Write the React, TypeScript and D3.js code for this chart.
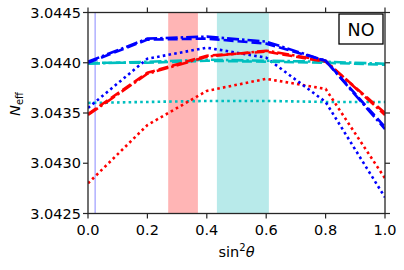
import * as d3 from 'd3';

// sin^2(theta) grid
const xs = [0, 0.2, 0.4, 0.6, 0.8, 1.0];

const blueDashed = [3.04400, 3.04423, 3.04424, 3.04419, 3.04402, 3.04336];
const blueDashDot = [3.04401, 3.04424, 3.04426, 3.04421, 3.04402, 3.04334];
const blueDotted = [3.04355, 3.04404, 3.04415, 3.04405, 3.04361, 3.04266];

const redDashed = [3.04349, 3.04390, 3.04407, 3.04411, 3.04401, 3.04350];
const redDashDot = [3.04348, 3.04389, 3.04406, 3.04412, 3.04402, 3.04348];
const redDotted = [3.04280, 3.04338, 3.04372, 3.04384, 3.04374, 3.04285];

const cyanDashed = [3.04400, 3.04400, 3.04402, 3.04401, 3.04400, 3.04398];
const cyanDashDot = [3.04399, 3.04401, 3.04403, 3.04402, 3.04401, 3.04399];
const cyanDotted = [3.04360, 3.04361, 3.04362, 3.04362, 3.04361, 3.04361];

const xTicks = [0, 0.2, 0.4, 0.6, 0.8, 1.0];
const yTicks = [3.0425, 3.043, 3.0435, 3.044, 3.0445];

const redBand = [0.27, 0.37];
const cyanBand = [0.434, 0.609];
const vline = 0.024;

const WIDTH = 404;
const HEIGHT = 270;
const PLOT = { left: 88, right: 385, top: 12.5, bottom: 213.5 };
const FONT = 'DejaVu Sans, sans-serif';

const DASH = '10 4';
const DASHDOT = '12 3 2.5 3';
const DOT = '2.6 3.2';

export default function App() {
  const x = d3.scaleLinear().domain([0, 1]).range([PLOT.left, PLOT.right]);
  const y = d3.scaleLinear().domain([3.0425, 3.0445]).range([PLOT.bottom, PLOT.top]);

  const line = d3
    .line<number>()
    .x((_, i) => x(xs[i]))
    .y((d) => y(d));

  const series = [
    { vals: cyanDotted, color: '#00bfbf', dash: DOT },
    { vals: redDotted, color: '#ff0000', dash: DOT },
    { vals: blueDotted, color: '#0000ff', dash: DOT },
    { vals: cyanDashed, color: '#00bfbf', dash: DASH },
    { vals: cyanDashDot, color: '#00bfbf', dash: DASHDOT },
    { vals: redDashed, color: '#ff0000', dash: DASH },
    { vals: redDashDot, color: '#ff0000', dash: DASHDOT },
    { vals: blueDashed, color: '#0000ff', dash: DASH },
    { vals: blueDashDot, color: '#0000ff', dash: DASHDOT },
  ];

  const axisColor = '#262626';

  return (
    <svg
      width={WIDTH}
      height={HEIGHT}
      style={{ position: 'fixed', left: 0, top: 0, background: '#fff' }}
      fontFamily={FONT}
    >
      <defs>
        <clipPath id="plot">
          <rect x={PLOT.left} y={PLOT.top} width={PLOT.right - PLOT.left} height={PLOT.bottom - PLOT.top} />
        </clipPath>
      </defs>

      {/* shaded bands */}
      <rect
        x={x(redBand[0])}
        y={PLOT.top}
        width={x(redBand[1]) - x(redBand[0])}
        height={PLOT.bottom - PLOT.top}
        fill="#ffb5b5"
      />
      <rect
        x={x(cyanBand[0])}
        y={PLOT.top}
        width={x(cyanBand[1]) - x(cyanBand[0])}
        height={PLOT.bottom - PLOT.top}
        fill="#b8eaea"
      />
      <line x1={x(vline)} x2={x(vline)} y1={PLOT.top} y2={PLOT.bottom} stroke="#9c9cff" strokeWidth={1.2} />

      <g clipPath="url(#plot)">
        {series.map((s, i) => (
          <path
            key={i}
            d={line(s.vals) ?? ''}
            fill="none"
            stroke={s.color}
            strokeWidth={2.6}
            strokeDasharray={s.dash}
          />
        ))}
      </g>

      {/* frame */}
      <rect
        x={PLOT.left}
        y={PLOT.top}
        width={PLOT.right - PLOT.left}
        height={PLOT.bottom - PLOT.top}
        fill="none"
        stroke={axisColor}
        strokeWidth={1.3}
      />

      {/* x ticks */}
      {xTicks.map((t) => (
        <g key={t}>
          <line x1={x(t)} x2={x(t)} y1={PLOT.bottom} y2={PLOT.bottom + 5} stroke={axisColor} strokeWidth={1.2} />
          <line x1={x(t)} x2={x(t)} y1={PLOT.top} y2={PLOT.top - 5} stroke={axisColor} strokeWidth={1.2} />
          <text x={x(t)} y={235} textAnchor="middle" fontSize={14.5} fill="#000">
            {t.toFixed(1)}
          </text>
        </g>
      ))}

      {/* y ticks */}
      {yTicks.map((t) => (
        <g key={t}>
          <line x1={PLOT.left} x2={PLOT.left - 5} y1={y(t)} y2={y(t)} stroke={axisColor} strokeWidth={1.2} />
          <line x1={PLOT.right} x2={PLOT.right + 5} y1={y(t)} y2={y(t)} stroke={axisColor} strokeWidth={1.2} />
          <text x={81} y={y(t)} dy="0.36em" textAnchor="end" fontSize={14.5} fill="#000">
            {t.toFixed(4)}
          </text>
        </g>
      ))}

      {/* axis labels */}
      <text x={(PLOT.left + PLOT.right) / 2} y={257} textAnchor="middle" fontSize={14.5} fill="#000">
        sin
        <tspan dy={-6} fontSize={10}>2</tspan>
        <tspan dy={6} fontStyle="italic">θ</tspan>
      </text>
      <text transform="translate(20,104) rotate(-90)" textAnchor="middle" fontSize={14.5} fill="#000">
        <tspan fontStyle="italic">N</tspan>
        <tspan dy={3} fontSize={10}>eff</tspan>
      </text>

      {/* NO label box */}
      <rect x={339} y={14} width={44} height={30} fill="#fff" stroke="#000" strokeWidth={1.3} />
      <text x={361} y={36} textAnchor="middle" fontSize={17.5} fill="#000">
        NO
      </text>
    </svg>
  );
}
